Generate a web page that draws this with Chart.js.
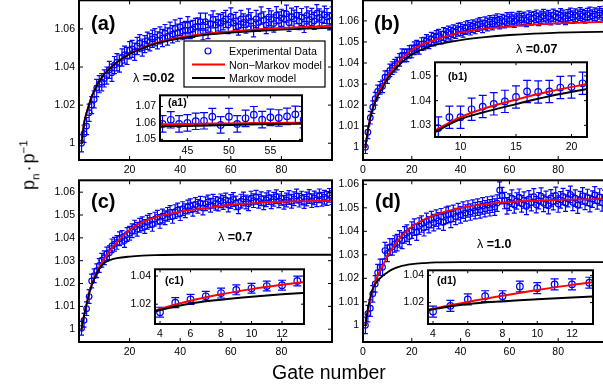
<!DOCTYPE html>
<html>
<head>
<meta charset="utf-8">
<script src="https://cdn.jsdelivr.net/npm/chart.js@4.4.0/dist/chart.umd.min.js"></script>
<style>
  body { margin: 0; width: 603px; height: 390px; overflow: hidden; background: #fff; position: relative;
         font-family: 'Liberation Sans', Arial, sans-serif; color: #000; }
  canvas { position: absolute; }
  .txt { position: absolute; line-height: 1; white-space: nowrap; }
</style>
</head>
<body>
<script>
// ================================
// DATA
// ================================

// gate numbers (x categories of the experimental points)
const gates = Array.from({ length: 100 }, (_, i) => i + 1);

// experimental data, lambda = 0.02
const dataA = [
  1.0000, 1.0050, 1.0090, 1.0160, 1.0200, 1.0230, 1.0290, 1.0310, 1.0320, 1.0340,
  1.0355, 1.0385, 1.0370, 1.0410, 1.0425, 1.0418, 1.0450, 1.0465, 1.0458, 1.0488,
  1.0495, 1.0480, 1.0510, 1.0525, 1.0502, 1.0520, 1.0538, 1.0530, 1.0548, 1.0556,
  1.0540, 1.0566, 1.0552, 1.0578, 1.0560, 1.0590, 1.0572, 1.0602, 1.0580, 1.0610,
  1.0588, 1.0594, 1.0619, 1.0594, 1.0600, 1.0610, 1.0613, 1.0638, 1.0588, 1.0638,
  1.0594, 1.0628, 1.0650, 1.0620, 1.0634, 1.0630, 1.0640, 1.0652, 1.0620, 1.0665,
  1.0630, 1.0642, 1.0612, 1.0652, 1.0634, 1.0622, 1.0660, 1.0641, 1.0603, 1.0652,
  1.0633, 1.0670, 1.0645, 1.0620, 1.0662, 1.0650, 1.0628, 1.0672, 1.0644, 1.0658,
  1.0651, 1.0680, 1.0632, 1.0664, 1.0653, 1.0672, 1.0641, 1.0662, 1.0626, 1.0671,
  1.0650, 1.0663, 1.0642, 1.0682, 1.0660, 1.0648, 1.0674, 1.0662, 1.0640, 1.0670
];

// experimental data, lambda = 0.07
const dataB = [
  1.0000, 1.0071, 1.0140, 1.0190, 1.0230, 1.0265, 1.0282, 1.0289, 1.0333, 1.0333,
  1.0365, 1.0376, 1.0387, 1.0397, 1.0415, 1.0437, 1.0435, 1.0437, 1.0453, 1.0455,
  1.0470, 1.0478, 1.0472, 1.0490, 1.0492, 1.0505, 1.0498, 1.0516, 1.0511, 1.0524,
  1.0530, 1.0521, 1.0538, 1.0533, 1.0545, 1.0539, 1.0551, 1.0547, 1.0558, 1.0561,
  1.0553, 1.0566, 1.0572, 1.0563, 1.0575, 1.0569, 1.0580, 1.0586, 1.0574, 1.0589,
  1.0583, 1.0595, 1.0587, 1.0598, 1.0604, 1.0592, 1.0601, 1.0597, 1.0609, 1.0602,
  1.0611, 1.0599, 1.0607, 1.0615, 1.0606, 1.0612, 1.0603, 1.0618, 1.0610, 1.0614,
  1.0622, 1.0608, 1.0617, 1.0625, 1.0613, 1.0620, 1.0611, 1.0626, 1.0619, 1.0615,
  1.0628, 1.0621, 1.0612, 1.0624, 1.0631, 1.0618, 1.0627, 1.0622, 1.0633, 1.0625,
  1.0619, 1.0630, 1.0636, 1.0623, 1.0632, 1.0627, 1.0638, 1.0629, 1.0641, 1.0634
];

// experimental data, lambda = 0.7
const dataC = [
  1.0004, 1.0039, 1.0090, 1.0143, 1.0211, 1.0234, 1.0256, 1.0279, 1.0302, 1.0313,
  1.0329, 1.0335, 1.0365, 1.0372, 1.0380, 1.0396, 1.0402, 1.0388, 1.0415, 1.0420,
  1.0431, 1.0447, 1.0438, 1.0455, 1.0462, 1.0450, 1.0468, 1.0476, 1.0459, 1.0482,
  1.0490, 1.0472, 1.0496, 1.0488, 1.0503, 1.0511, 1.0494, 1.0515, 1.0522, 1.0506,
  1.0528, 1.0519, 1.0535, 1.0541, 1.0525, 1.0546, 1.0538, 1.0552, 1.0531, 1.0549,
  1.0557, 1.0543, 1.0560, 1.0551, 1.0548, 1.0562, 1.0555, 1.0566, 1.0544, 1.0559,
  1.0568, 1.0553, 1.0536, 1.0561, 1.0570, 1.0557, 1.0549, 1.0574, 1.0563, 1.0578,
  1.0560, 1.0571, 1.0554, 1.0567, 1.0576, 1.0558, 1.0569, 1.0580, 1.0562, 1.0573,
  1.0556, 1.0566, 1.0577, 1.0560, 1.0571, 1.0583, 1.0565, 1.0574, 1.0559, 1.0570,
  1.0581, 1.0563, 1.0575, 1.0567, 1.0584, 1.0569, 1.0578, 1.0572, 1.0586, 1.0576
];

// experimental data, lambda = 1.0
const dataD = [
  1.0000, 1.0050, 1.0073, 1.0134, 1.0176, 1.0224, 1.0247, 1.0247, 1.0318, 1.0306,
  1.0334, 1.0334, 1.0346, 1.0352, 1.0368, 1.0361, 1.0385, 1.0392, 1.0378, 1.0405,
  1.0418, 1.0396, 1.0422, 1.0431, 1.0415, 1.0442, 1.0428, 1.0450, 1.0437, 1.0456,
  1.0445, 1.0462, 1.0439, 1.0468, 1.0472, 1.0451, 1.0476, 1.0463, 1.0484, 1.0470,
  1.0490, 1.0478, 1.0495, 1.0482, 1.0499, 1.0488, 1.0503, 1.0491, 1.0508, 1.0496,
  1.0512, 1.0500, 1.0515, 1.0503, 1.0520, 1.0575, 1.0552, 1.0531, 1.0508, 1.0524,
  1.0541, 1.0512, 1.0529, 1.0545, 1.0517, 1.0533, 1.0506, 1.0538, 1.0522, 1.0547,
  1.0513, 1.0530, 1.0550, 1.0519, 1.0536, 1.0509, 1.0542, 1.0526, 1.0553, 1.0516,
  1.0534, 1.0548, 1.0520, 1.0539, 1.0557, 1.0523, 1.0541, 1.0511, 1.0535, 1.0551,
  1.0527, 1.0544, 1.0518, 1.0537, 1.0555, 1.0529, 1.0546, 1.0521, 1.0540, 1.0532
];

// error bar half widths: main panels a-d, then insets a1-d1
const errMain = [0.0045, 0.003, 0.003, 0.0035];
const errInset = [0.005, 0.0045, 0.0035, 0.004];

// model curves (main panels), sampled at these gate numbers
const curveX = [1, 2, 3, 4, 5, 6, 8, 10, 12, 15, 20, 25, 30, 40, 50, 60, 70, 80, 90, 100];
const redA   = [1.0000, 1.0105, 1.0160, 1.0205, 1.0245, 1.0275, 1.0325, 1.0362, 1.0390, 1.0425, 1.0470, 1.0500, 1.0525, 1.0555, 1.0575, 1.0587, 1.0597, 1.0605, 1.0611, 1.0616];
const blackA = [1.0000, 1.0105, 1.0160, 1.0205, 1.0245, 1.0275, 1.0325, 1.0362, 1.0390, 1.0425, 1.0468, 1.0497, 1.0521, 1.0550, 1.0569, 1.0580, 1.0589, 1.0596, 1.0601, 1.0605];
const redB   = [1.0000, 1.0080, 1.0140, 1.0188, 1.0222, 1.0250, 1.0292, 1.0333, 1.0368, 1.0410, 1.0462, 1.0492, 1.0512, 1.0545, 1.0563, 1.0574, 1.0582, 1.0588, 1.0592, 1.0595];
const blackB = [1.0000, 1.0080, 1.0138, 1.0183, 1.0215, 1.0242, 1.0282, 1.0325, 1.0355, 1.0392, 1.0440, 1.0468, 1.0487, 1.0509, 1.0523, 1.0533, 1.0540, 1.0544, 1.0547, 1.0549];
const redC   = [1.0000, 1.0060, 1.0110, 1.0160, 1.0195, 1.0225, 1.0270, 1.0307, 1.0340, 1.0380, 1.0435, 1.0468, 1.0490, 1.0515, 1.0530, 1.0545, 1.0553, 1.0558, 1.0561, 1.0563];
const blackC = [1.0000, 1.0060, 1.0110, 1.0155, 1.0190, 1.0220, 1.0265, 1.0290, 1.0302, 1.0311, 1.0318, 1.0322, 1.0324, 1.0326, 1.0326, 1.0326, 1.0326, 1.0326, 1.0326, 1.0326];
const redD   = [1.0000, 1.0060, 1.0110, 1.0155, 1.0185, 1.0210, 1.0252, 1.0292, 1.0328, 1.0370, 1.0420, 1.0450, 1.0472, 1.0500, 1.0515, 1.0525, 1.0530, 1.0534, 1.0536, 1.0537];
const blackD = [1.0000, 1.0070, 1.0120, 1.0155, 1.0175, 1.0190, 1.0210, 1.0225, 1.0238, 1.0250, 1.0260, 1.0265, 1.0268, 1.0269, 1.0269, 1.0269, 1.0269, 1.0269, 1.0269, 1.0269];

// model curves (insets)
const a1X = [41, 45, 50, 55, 60];
const a1Red   = [1.0592, 1.0594, 1.0597, 1.0600, 1.0602];
const a1Black = [1.0578, 1.0582, 1.0588, 1.0593, 1.0596];
const b1X = [7, 8, 10, 12, 15, 18, 22];
const b1Red   = [1.0262, 1.0287, 1.0333, 1.0366, 1.0404, 1.0437, 1.0472];
const b1Black = [1.0255, 1.0280, 1.0325, 1.0352, 1.0386, 1.0418, 1.0452];
const c1X = [3, 4, 6, 8, 10, 12, 14];
const c1Red   = [1.0125, 1.0166, 1.0225, 1.0270, 1.0307, 1.0338, 1.0365];
const c1Black = [1.0125, 1.0158, 1.0205, 1.0232, 1.0253, 1.0270, 1.0283];
const d1X = [3, 4, 6, 8, 10, 12, 14];
const d1Red   = [1.0125, 1.0155, 1.0205, 1.0250, 1.0292, 1.0330, 1.0360];
const d1Black = [1.0125, 1.0152, 1.0190, 1.0210, 1.0225, 1.0238, 1.0248];

// tick values
const ticksAX = [20, 40, 60, 80];
const ticksAY = [1, 1.02, 1.04, 1.06];
const ticksBX = [0, 20, 40, 60, 80];
const ticksCX = [20, 40, 60, 80];
const ticksDX = [0, 20, 40, 60, 80];
const ticksY01 = [1, 1.01, 1.02, 1.03, 1.04, 1.05, 1.06];
const ticksA1X = [45, 50, 55];
const ticksA1Y = [1.05, 1.06, 1.07];
const ticksB1X = [10, 15, 20];
const ticksB1Y = [1.03, 1.04, 1.05];
const ticksC1X = [4, 6, 8, 10, 12];
const ticksC1Y = [1.02, 1.04];
const legendLabels = ['Experimental Data', 'Non\u2212Markov model', 'Markov model'];

// ================================
// CHART HELPERS
// ================================

Chart.defaults.font.family = "'Liberation Sans', Arial, sans-serif";
Chart.defaults.font.size = 10.5;
Chart.defaults.color = '#000';

const BLUE = '#0000ff', RED = '#ff0000';

function pts(xs, ys) {
  return xs.map((x, i) => ({ x: x, y: ys[i] }));
}

function makePanel(p) {
  const W = 40, H = 20, PT = 8, PR = 10;
  const [l, t, r, b] = p.box;
  const cv = document.createElement('canvas');
  cv.width = W + (r - l) + PR;
  cv.height = PT + (b - t) + H;
  cv.style.left = (l - W) + 'px';
  cv.style.top = (t - PT) + 'px';
  document.body.appendChild(cv);

  const tickLen = p.inset ? 3 : 4;

  // frame, ticks, error bars and legend
  const framePlugin = {
    id: 'frame',
    beforeDraw(chart) {
      if (!p.inset) return;
      const a = chart.chartArea, ctx = chart.ctx;
      ctx.save();
      ctx.fillStyle = '#fff';
      ctx.fillRect(a.left, a.top, a.right - a.left, a.bottom - a.top);
      ctx.restore();
    },
    beforeDatasetsDraw(chart) {
      const a = chart.chartArea, ctx = chart.ctx;
      const xs = chart.scales.x, ys = chart.scales.y;
      ctx.save();
      ctx.beginPath();
      ctx.rect(a.left, a.top, a.right - a.left, a.bottom - a.top);
      ctx.clip();
      ctx.strokeStyle = BLUE;
      ctx.lineWidth = 1.2;
      gates.forEach((g, i) => {
        const px = xs.getPixelForValue(g);
        if (px < a.left - 10 || px > a.right + 10) return;
        const y0 = ys.getPixelForValue(p.data[i] - p.err);
        const y1 = ys.getPixelForValue(p.data[i] + p.err);
        ctx.beginPath();
        ctx.moveTo(px, y0); ctx.lineTo(px, y1);
        ctx.moveTo(px - p.cap, y0); ctx.lineTo(px + p.cap, y0);
        ctx.moveTo(px - p.cap, y1); ctx.lineTo(px + p.cap, y1);
        ctx.stroke();
      });
      ctx.restore();
    },
    afterDraw(chart) {
      const a = chart.chartArea, ctx = chart.ctx;
      const xs = chart.scales.x, ys = chart.scales.y;
      ctx.save();
      ctx.strokeStyle = '#000';
      ctx.lineWidth = 1;
      ctx.beginPath();
      xs.ticks.forEach(tk => {
        const px = xs.getPixelForValue(tk.value);
        ctx.moveTo(px, a.bottom); ctx.lineTo(px, a.bottom - tickLen);
        ctx.moveTo(px, a.top); ctx.lineTo(px, a.top + tickLen);
      });
      ys.ticks.forEach(tk => {
        const py = ys.getPixelForValue(tk.value);
        ctx.moveTo(a.left, py); ctx.lineTo(a.left + tickLen, py);
        ctx.moveTo(a.right, py); ctx.lineTo(a.right - tickLen, py);
      });
      ctx.stroke();
      ctx.lineWidth = 2;
      ctx.strokeRect(a.left, a.top, a.right - a.left, a.bottom - a.top);

      if (p.legend) {
        // legend box given in page coordinates
        const ox = l - W, oy = t - PT;
        const bx = 184 - ox, by = 41 - oy;
        ctx.fillStyle = '#fff';
        ctx.fillRect(bx, by, 141, 46);
        ctx.lineWidth = 1.2;
        ctx.strokeRect(bx, by, 141, 46);
        ctx.strokeStyle = BLUE;
        ctx.lineWidth = 1.2;
        ctx.beginPath();
        ctx.arc(bx + 24, by + 10, 3, 0, Math.PI * 2);
        ctx.stroke();
        ctx.lineWidth = 1.8;
        ctx.strokeStyle = RED;
        ctx.beginPath(); ctx.moveTo(bx + 8, by + 23.5); ctx.lineTo(bx + 41, by + 23.5); ctx.stroke();
        ctx.strokeStyle = '#000';
        ctx.beginPath(); ctx.moveTo(bx + 8, by + 37); ctx.lineTo(bx + 41, by + 37); ctx.stroke();
        ctx.fillStyle = '#000';
        ctx.font = "10.7px 'Liberation Sans', Arial, sans-serif";
        ctx.textBaseline = 'alphabetic';
        legendLabels.forEach((s, i) => ctx.fillText(s, bx + 45, by + 14 + i * 13.5));
      }
      ctx.restore();
    }
  };

  const lw = p.inset ? 2 : 1.8;
  return new Chart(cv, {
    type: 'scatter',
    data: {
      datasets: [
        {
          label: legendLabels[2],
          data: pts(p.cx, p.black),
          showLine: true,
          borderColor: '#000',
          borderWidth: lw,
          pointRadius: 0,
          cubicInterpolationMode: 'monotone',
          order: 0
        },
        {
          label: legendLabels[1],
          data: pts(p.cx, p.red),
          showLine: true,
          borderColor: RED,
          borderWidth: lw,
          pointRadius: 0,
          cubicInterpolationMode: 'monotone',
          order: 1
        },
        {
          label: legendLabels[0],
          data: pts(gates, p.data),
          pointStyle: 'circle',
          pointRadius: p.inset ? 3.3 : 2.8,
          pointBorderWidth: 1.2,
          borderColor: BLUE,
          backgroundColor: 'rgba(0,0,0,0)',
          order: 2
        }
      ]
    },
    options: {
      responsive: false,
      animation: false,
      events: [],
      layout: { padding: { top: PT, right: PR, left: 0, bottom: 0 } },
      plugins: { legend: { display: false }, tooltip: { enabled: false } },
      scales: {
        x: {
          type: 'linear',
          min: p.xr[0],
          max: p.xr[1],
          grid: { display: false, drawTicks: false },
          border: { display: false },
          ticks: { padding: 4, maxRotation: 0, autoSkip: false, callback: v => String(v) },
          afterBuildTicks: s => { s.ticks = p.xt.map(v => ({ value: v })); },
          afterFit: s => { s.height = H; }
        },
        y: {
          type: 'linear',
          min: p.yr[0],
          max: p.yr[1],
          grid: { display: false, drawTicks: false },
          border: { display: false },
          ticks: { padding: 4, autoSkip: false, callback: v => String(+v.toFixed(3)) },
          afterBuildTicks: s => { s.ticks = p.yt.map(v => ({ value: v })); },
          afterFit: s => { s.width = W; }
        }
      }
    },
    plugins: [framePlugin]
  });
}

function addText(html, x, base, size, bold) {
  const d = document.createElement('div');
  d.className = 'txt';
  d.innerHTML = html;
  d.style.left = x + 'px';
  d.style.top = (base - 0.846 * size) + 'px';
  d.style.fontSize = size + 'px';
  d.style.fontWeight = bold ? 'bold' : 'normal';
  document.body.appendChild(d);
}

// ================================
// MAIN PANELS
// ================================

makePanel({ box: [79, -2, 332, 160], xr: [0, 100], yr: [0.9912, 1.075], xt: ticksAX, yt: ticksAY,
  data: dataA, err: errMain[0], cap: 2.5, cx: curveX, red: redA, black: blackA, legend: true });
makePanel({ box: [363, -2, 607, 160], xr: [0, 100], yr: [0.9939, 1.0698], xt: ticksBX, yt: ticksY01,
  data: dataB, err: errMain[1], cap: 2.5, cx: curveX, red: redB, black: blackB });
makePanel({ box: [79, 178, 332, 342], xr: [0, 100], yr: [0.9944, 1.0652], xt: ticksCX, yt: ticksY01,
  data: dataC, err: errMain[2], cap: 2.5, cx: curveX, red: redC, black: blackC });
makePanel({ box: [363, 178, 607, 342], xr: [0, 100], yr: [0.9929, 1.0617], xt: ticksDX, yt: ticksY01,
  data: dataD, err: errMain[3], cap: 2.5, cx: curveX, red: redD, black: blackD });

// ================================
// INSETS
// ================================

makePanel({ inset: true, box: [160, 93, 302, 141], xr: [41.7, 58.8], yr: [1.049, 1.0768], xt: ticksA1X, yt: ticksA1Y,
  data: dataA, err: errInset[0], cap: 4, cx: a1X, red: a1Red, black: a1Black });
makePanel({ inset: true, box: [435, 60, 587, 137], xr: [7.7, 21.4], yr: [1.0253, 1.0555], xt: ticksB1X, yt: ticksB1Y,
  data: dataB, err: errInset[1], cap: 4, cx: b1X, red: b1Red, black: b1Black });
makePanel({ inset: true, box: [155, 267, 304, 324], xr: [3.67, 13.44], yr: [1.0059, 1.0448], xt: ticksC1X, yt: ticksC1Y,
  data: dataC, err: errInset[2], cap: 4, cx: c1X, red: c1Red, black: c1Black });
makePanel({ inset: true, box: [428, 268, 593, 324], xr: [3.71, 13.21], yr: [1.0043, 1.0437], xt: ticksC1X, yt: ticksC1Y,
  data: dataD, err: errInset[3], cap: 4, cx: d1X, red: d1Red, black: d1Black });

// ================================
// LABELS
// ================================

addText('(a)', 91, 29.5, 20, true);
addText('(b)', 374, 29.5, 20, true);
addText('(c)', 91, 207.5, 20, true);
addText('(d)', 375, 208, 20, true);

addText('<span style="font-weight:normal">\u03bb</span> =0.02', 133, 83, 12.5, true);
addText('<span style="font-weight:normal">\u03bb</span> =0.07', 516, 53.5, 12.5, true);
addText('<span style="font-weight:normal">\u03bb</span> =0.7', 218, 241.5, 12.5, true);
addText('<span style="font-weight:normal">\u03bb</span> =1.0', 477, 249, 12.5, true);

addText('(a1)', 168, 105.5, 10.5, true);
addText('(b1)', 448, 80, 10.5, true);
addText('(c1)', 165, 283.5, 10.5, true);
addText('(d1)', 437, 284, 10.5, true);

addText('Gate number', 272, 379, 19.5, false);

const yTitle = document.createElement('div');
yTitle.className = 'txt';
yTitle.innerHTML = 'p<sub style="font-size:65%">n</sub><span style="padding:0 2px">\u00b7</span>p<sup style="font-size:65%">\u22121</sup>';
yTitle.style.cssText += 'left:29px;top:165px;font-size:18px;transform:translate(-50%,-50%) rotate(-90deg);';
document.body.appendChild(yTitle);
</script>
</body>
</html>
